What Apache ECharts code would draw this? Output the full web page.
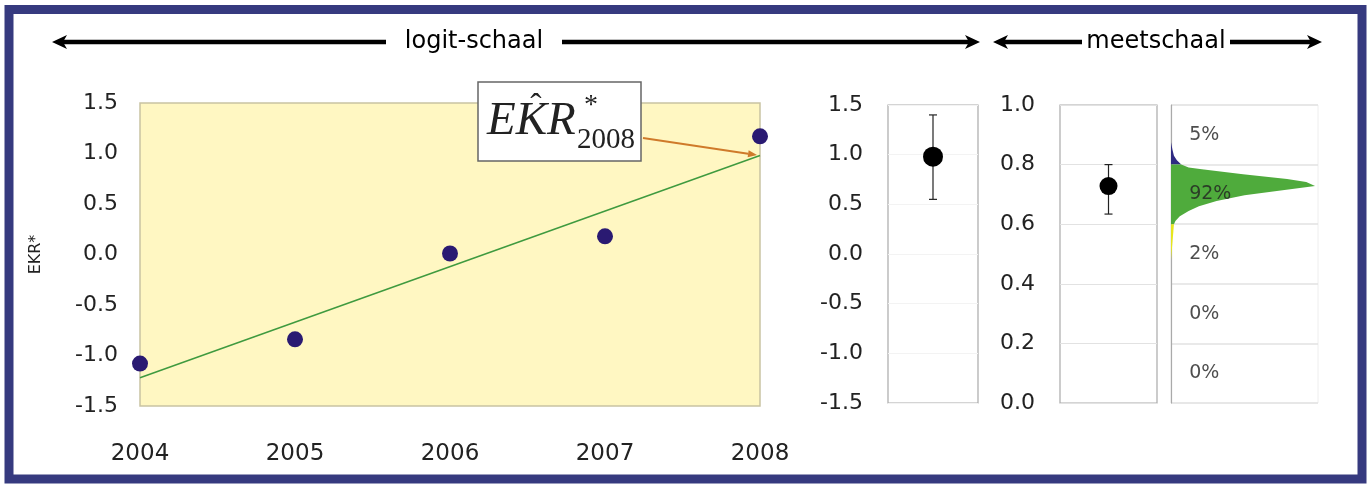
<!DOCTYPE html>
<html>
<head>
<meta charset="utf-8">
<script src="https://cdn.jsdelivr.net/npm/echarts@6/dist/echarts.min.js"></script>
<style>
html,body{margin:0;padding:0;background:#fff;}
#c{width:1368px;height:484px;}
</style>
</head>
<body>
<div id="c"></div>
<script>
// ---- data ----
const years = ['2004', '2005', '2006', '2007', '2008'];
const ekrValues = [-1.08, -0.84, 0.01, 0.18, 1.17];
const trendYears = ['2004', '2008'];
const trendValues = [-1.22, 0.98];
const logitTicks = [-1.5, -1.0, -0.5, 0.0, 0.5, 1.0, 1.5];
const scaleTicks = [0.0, 0.2, 0.4, 0.6, 0.8, 1.0];
// estimate 2008 on logit scale: [centre, low, high]
const logitEstimate = [0.98, 0.55, 1.40];
// estimate on measurement scale: [centre, low, high]
const scaleEstimate = [0.728, 0.634, 0.80];
// density profile on measurement scale: [density, value]
const densBlue = [[0, 0.875], [0.01, 0.85], [0.02, 0.83], [0.04, 0.815], [0.07, 0.80]];
const densGreen = [[0.07, 0.80], [0.12, 0.79], [0.21, 0.784], [0.49, 0.768], [0.79, 0.752], [0.92, 0.742],
  [0.98, 0.728], [0.72, 0.711], [0.50, 0.697], [0.31, 0.678], [0.19, 0.66], [0.12, 0.644],
  [0.06, 0.627], [0.03, 0.611], [0.02, 0.60]];
const densYellow = [[0.02, 0.60], [0.015, 0.57], [0.01, 0.54], [0.005, 0.51], [0, 0.48]];
const bandMids = [0.9, 0.7, 0.5, 0.3, 0.1];
const bandPct = ['5%', '92%', '2%', '0%', '0%'];

// ---- chart ----
const FONT = 'DejaVu Sans';
const chart = echarts.init(document.getElementById('c'));

function errRender(params, api) {
  const x = api.value(0), lo = api.value(1), hi = api.value(2);
  const a = api.coord([x, lo]), b = api.coord([x, hi]);
  const cap = 4;
  const st = { stroke: '#222', lineWidth: 1.2 };
  return {
    type: 'group', children: [
      { type: 'line', shape: { x1: a[0], y1: a[1], x2: b[0], y2: b[1] }, style: st },
      { type: 'line', shape: { x1: a[0] - cap, y1: a[1], x2: a[0] + cap, y2: a[1] }, style: st },
      { type: 'line', shape: { x1: b[0] - cap, y1: b[1], x2: b[0] + cap, y2: b[1] }, style: st }
    ]
  };
}
function densRender(arr, color) {
  return function (params, api) {
    if (params.dataIndex !== 0) return null;
    const pts = arr.map(p => api.coord(p));
    pts.push(api.coord([0, arr[arr.length - 1][1]]));
    pts.push(api.coord([0, arr[0][1]]));
    return { type: 'polygon', shape: { points: pts }, style: { fill: color } };
  };
}
const lbl = { fontFamily: FONT, fontSize: 22, color: '#222' };
const hidden = { show: false };

const option = {
  animation: false,
  backgroundColor: '#fff',
  grid: [
    { left: 140, top: 103, width: 620, height: 303, show: true, backgroundColor: '#fff7c2', borderColor: '#c9c3a3', borderWidth: 1.5 },
    { left: 888, top: 105, width: 90, height: 298, show: true, backgroundColor: '#fff', borderColor: '#aaa', borderWidth: 1.2 },
    { left: 1060, top: 105, width: 97, height: 298, show: true, backgroundColor: '#fff', borderColor: '#aaa', borderWidth: 1.2 },
    { left: 1171, top: 105, width: 147, height: 298, show: true, backgroundColor: '#fff', borderColor: '#eee', borderWidth: 1 }
  ],
  xAxis: [
    { gridIndex: 0, type: 'category', data: years, boundaryGap: false,
      axisLine: hidden, axisTick: hidden, splitLine: hidden,
      axisLabel: { fontFamily: FONT, fontSize: 23, color: '#222', margin: 37, interval: 0 } },
    { gridIndex: 1, type: 'value', min: 0, max: 1, show: false },
    { gridIndex: 2, type: 'value', min: 0, max: 1, show: false },
    { gridIndex: 3, type: 'value', min: 0, max: 1, show: false }
  ],
  yAxis: [
    { gridIndex: 0, type: 'value', min: logitTicks[0], max: logitTicks[logitTicks.length - 1], interval: 0.5,
      axisLine: hidden, axisTick: hidden, splitLine: hidden,
      axisLabel: Object.assign({ margin: 22, formatter: v => v.toFixed(1) }, lbl),
      name: 'EKR*', nameLocation: 'middle', nameRotate: 90, nameGap: 96,
      nameTextStyle: { fontFamily: FONT, fontSize: 16, color: '#222' } },
    { gridIndex: 1, type: 'value', min: logitTicks[0], max: logitTicks[logitTicks.length - 1], interval: 0.5,
      axisLine: hidden, axisTick: hidden,
      splitLine: { show: true, lineStyle: { color: '#f3f3f3', width: 1 } },
      axisLabel: Object.assign({ margin: 25, formatter: v => v.toFixed(1) }, lbl) },
    { gridIndex: 2, type: 'value', min: scaleTicks[0], max: scaleTicks[scaleTicks.length - 1], interval: 0.2,
      axisLine: hidden, axisTick: hidden,
      splitLine: { show: true, lineStyle: { color: '#e2e2e2', width: 1.2 } },
      axisLabel: Object.assign({ margin: 25, formatter: v => v.toFixed(1) }, lbl) },
    { gridIndex: 3, type: 'value', min: scaleTicks[0], max: scaleTicks[scaleTicks.length - 1], interval: 0.2,
      axisLine: { show: true, lineStyle: { color: '#aaa', width: 1.2 } }, axisTick: hidden, axisLabel: hidden,
      splitLine: { show: true, lineStyle: { color: '#e2e2e2', width: 1.5 } } }
  ],
  series: [
    { type: 'line', xAxisIndex: 0, yAxisIndex: 0, data: trendYears.map((y, i) => [y, trendValues[i]]),
      symbol: 'none', lineStyle: { color: '#3f9a3f', width: 1.5 }, z: 3 },
    { type: 'scatter', xAxisIndex: 0, yAxisIndex: 0, data: ekrValues, symbolSize: 16,
      itemStyle: { color: '#2a1a72', opacity: 1 }, z: 4 },
    { type: 'custom', xAxisIndex: 1, yAxisIndex: 1, data: [[0.5, logitEstimate[1], logitEstimate[2]]],
      encode: { x: 0, y: [1, 2] }, renderItem: errRender, z: 3 },
    { type: 'scatter', xAxisIndex: 1, yAxisIndex: 1, data: [[0.5, logitEstimate[0]]], symbolSize: 20,
      itemStyle: { color: '#000', opacity: 1 }, z: 4 },
    { type: 'custom', xAxisIndex: 2, yAxisIndex: 2, data: [[0.5, scaleEstimate[1], scaleEstimate[2]]],
      encode: { x: 0, y: [1, 2] }, renderItem: errRender, z: 3 },
    { type: 'scatter', xAxisIndex: 2, yAxisIndex: 2, data: [[0.5, scaleEstimate[0]]], symbolSize: 18,
      itemStyle: { color: '#000', opacity: 1 }, z: 4 },
    { type: 'custom', xAxisIndex: 3, yAxisIndex: 3, data: densBlue, encode: { x: 0, y: 1 },
      renderItem: densRender(densBlue, '#2e2a82'), clip: false, z: 3 },
    { type: 'custom', xAxisIndex: 3, yAxisIndex: 3, data: densGreen, encode: { x: 0, y: 1 },
      renderItem: densRender(densGreen, '#4fab3c'), clip: false, z: 3 },
    { type: 'custom', xAxisIndex: 3, yAxisIndex: 3, data: densYellow, encode: { x: 0, y: 1 },
      renderItem: densRender(densYellow, '#e6e61e'), clip: false, z: 3 },
    { type: 'scatter', xAxisIndex: 3, yAxisIndex: 3, data: bandMids.map(v => [0.12, v]), symbolSize: 1,
      itemStyle: { color: 'rgba(0,0,0,0)' }, z: 5,
      label: { show: true, position: 'right', distance: 0,
        formatter: p => bandPct[p.dataIndex],
        fontFamily: FONT, fontSize: 19, color: '#222' } }
  ]
};
chart.setOption(option);

// ---- decorations (frame, headers, annotation) ----
const arrowEnd = chart.convertToPixel({ xAxisIndex: 0, yAxisIndex: 0 }, [trendYears[1], trendValues[1]]);
const HY = 42;
function headL(x) { return { type: 'polygon', shape: { points: [[x, HY], [x + 15, HY - 7], [x + 11, HY], [x + 15, HY + 7]] }, style: { fill: '#000' } }; }
function headR(x) { return { type: 'polygon', shape: { points: [[x, HY], [x - 15, HY - 7], [x - 11, HY], [x - 15, HY + 7]] }, style: { fill: '#000' } }; }
function hline(x1, x2) { return { type: 'line', shape: { x1: x1, y1: HY, x2: x2, y2: HY }, style: { stroke: '#000', lineWidth: 4.5 } }; }
const ax = 643, ay = 138;
const ang = Math.atan2(arrowEnd[1] - ay, arrowEnd[0] - ax);
const ex = arrowEnd[0] - 3 * Math.cos(ang), ey = arrowEnd[1] - 3 * Math.sin(ang);
const hl = 9, hw = 3.5;
const bx = ex - hl * Math.cos(ang), by = ey - hl * Math.sin(ang);
chart.setOption({
  graphic: [
    { type: 'rect', shape: { x: 9, y: 9.5, width: 1353, height: 469.5 }, style: { fill: 'none', stroke: '#363a7f', lineWidth: 9 }, z: 100 },
    hline(60, 386), headL(52),
    { type: 'text', x: 474, y: HY, style: { text: 'logit-schaal', fontFamily: FONT, fontSize: 24, fill: '#000', align: 'center', verticalAlign: 'middle' } },
    hline(562, 972), headR(980),
    hline(1001, 1082), headL(993),
    { type: 'text', x: 1156, y: HY, style: { text: 'meetschaal', fontFamily: FONT, fontSize: 24, fill: '#000', align: 'center', verticalAlign: 'middle' } },
    hline(1230, 1314), headR(1322),
    // annotation box
    { type: 'rect', shape: { x: 478, y: 82, width: 163, height: 79 }, style: { fill: '#fff', stroke: '#666', lineWidth: 1.5 }, z: 50 },
    { type: 'text', x: 487, y: 122, z: 51, style: { text: 'EKR', fontFamily: 'Liberation Serif', fontStyle: 'italic', fontSize: 47, fill: '#222', verticalAlign: 'middle' } },
    { type: 'text', x: 536, y: 108, z: 51, style: { text: '\u02C6', fontFamily: 'Liberation Serif', fontSize: 34, fill: '#222', align: 'center', verticalAlign: 'middle' } },
    { type: 'text', x: 591, y: 106, z: 51, style: { text: '*', fontFamily: 'Liberation Serif', fontSize: 28, fill: '#222', align: 'center', verticalAlign: 'middle' } },
    { type: 'text', x: 577, y: 140, z: 51, style: { text: '2008', fontFamily: 'Liberation Serif', fontSize: 29, fill: '#222', verticalAlign: 'middle' } },
    // arrow
    { type: 'line', shape: { x1: ax, y1: ay, x2: bx, y2: by }, style: { stroke: '#cf7a2a', lineWidth: 1.8 }, z: 52 },
    { type: 'polygon', z: 52, shape: { points: [[ex, ey],
      [bx - hw * Math.sin(ang), by + hw * Math.cos(ang)],
      [bx + hw * Math.sin(ang), by - hw * Math.cos(ang)]] }, style: { fill: '#cf7a2a' } }
  ]
});
</script>
</body>
</html>
